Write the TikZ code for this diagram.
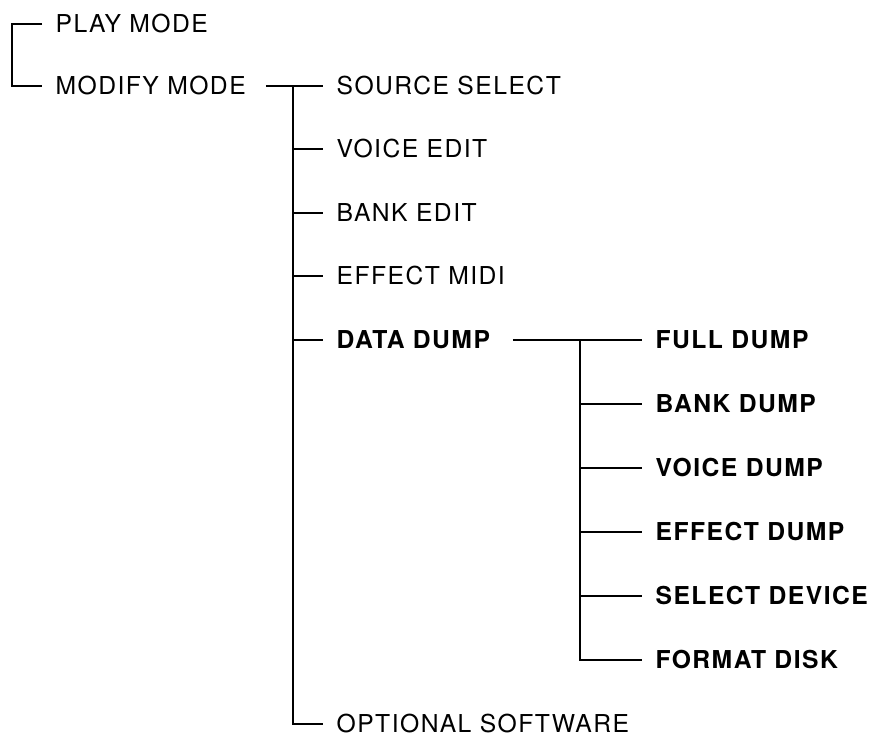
\documentclass[tikz,border=0pt]{standalone}
\usepackage{fontspec}
\setmainfont{TeX Gyre Heros}[LetterSpace=6]
\usepackage{tikz}
\usetikzlibrary{positioning}

\begin{document}
\begin{tikzpicture}[
  x=0.75pt, y=-0.75pt,
  font=\fontsize{18.5}{20}\selectfont,
  item/.style={anchor=west, inner xsep=10pt, inner ysep=0pt},
  itembf/.style={item, font=\fontsize{18.5}{20}\selectfont\bfseries},
  wire/.style={line width=1.7pt, black}]
\useasboundingbox (0,0) rectangle (869,739);
% top level
\node[item] (play) at (42,24) {PLAY MODE};
\node[item] (modify) at (42,86) {MODIFY MODE};
\coordinate (brk) at (12,86);
\draw[wire] (play.west) -| (brk) -- (modify.west);
% modify mode branch
\coordinate (mJ) at (293,86);
\node[item] (source) at (323,86) {SOURCE SELECT};
\node[item] (voice) at (323,149) {VOICE EDIT};
\node[item] (bank) at (323,213) {BANK EDIT};
\node[item] (effect) at (323,276) {EFFECT MIDI};
\node[itembf] (dump) at (323,340) {DATA DUMP};
\node[item] (optional) at (323,724) {OPTIONAL SOFTWARE};
\draw[wire, shorten <=5pt] (modify.east) -- (source.west);
\draw[wire] (mJ) |- (optional.west);
\foreach \n in {voice,bank,effect,dump}
  \draw[wire] (mJ |- \n) -- (\n.west);
% data dump branch
\coordinate (dJ) at (580,340);
\node[itembf] (full) at (642,340) {FULL DUMP};
\node[itembf] (bankdump) at (642,404) {BANK DUMP};
\node[itembf] (voicedump) at (642,468) {VOICE DUMP};
\node[itembf] (effectdump) at (642,532) {EFFECT DUMP};
\node[itembf] (device) at (642,596) {SELECT DEVICE};
\node[itembf] (format) at (642,660) {FORMAT DISK};
\draw[wire, shorten <=7pt] (dump.east) -- (full.west);
\draw[wire] (dJ) |- (format.west);
\foreach \n in {bankdump,voicedump,effectdump,device}
  \draw[wire] (dJ |- \n) -- (\n.west);
\end{tikzpicture}
\end{document}
